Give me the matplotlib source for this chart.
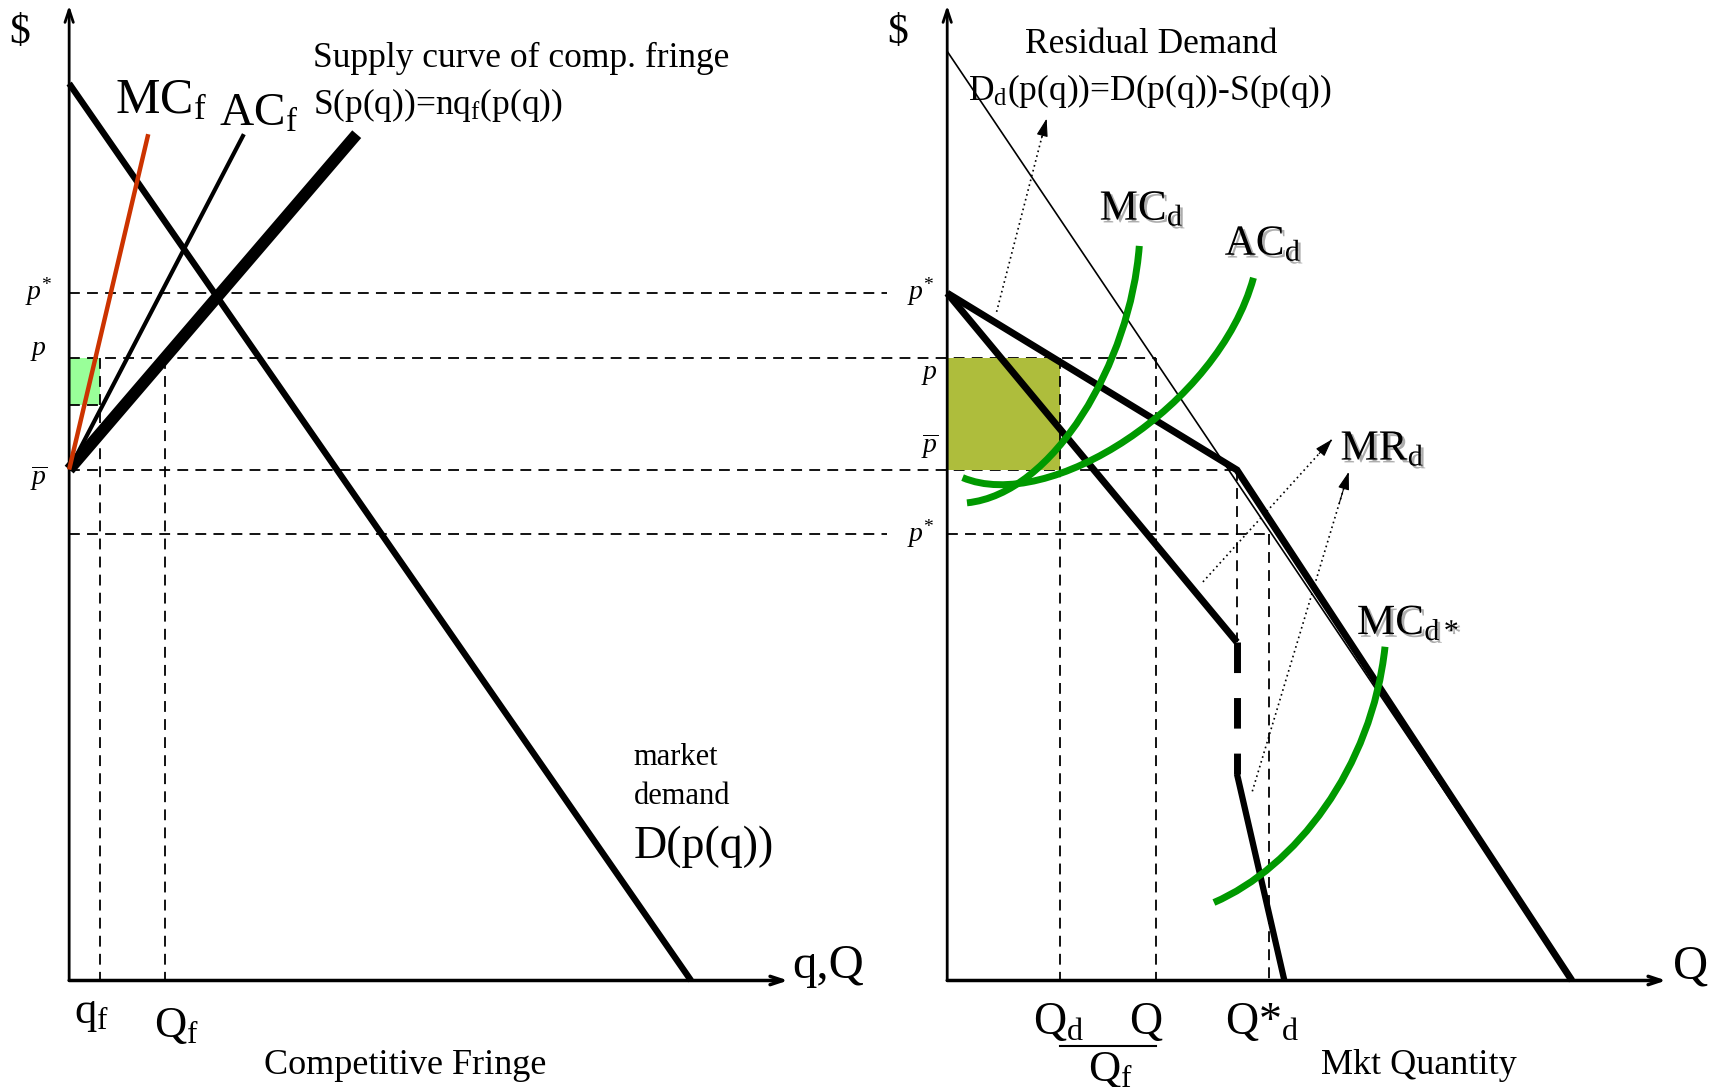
import matplotlib
matplotlib.use('Agg')
import matplotlib.pyplot as plt
from matplotlib.path import Path
from matplotlib.patches import PathPatch, Rectangle
import matplotlib.patheffects as pe

plt.rcParams['font.family'] = ['Liberation Serif', 'DejaVu Serif']
plt.rcParams['mathtext.fontset'] = 'custom'
plt.rcParams['mathtext.rm'] = 'Liberation Serif'
plt.rcParams['mathtext.it'] = 'Liberation Serif:italic'
plt.rcParams['mathtext.bf'] = 'Liberation Serif:bold'

# ---------------- data: price levels (shared) ----------------
P_STAR_HI = 70.5
P_LEVEL = 63.85
P_BAR = 52.4
P_STAR_LO = 45.8
P_GREEN_LOW = 59.0

# ---------------- left panel: competitive fringe ----------------
Q_SMALL_F = 4.35
Q_BIG_F = 13.3
demand_q = [0.0, 86.5]
demand_p = [92.0, 0.0]
mcf_q = [0.0, 11.0]
mcf_p = [52.4, 86.8]
acf_q = [0.0, 24.3]
acf_p = [52.4, 86.8]
supply_q = [0.0, 40.0]
supply_p = [52.4, 86.8]

# ---------------- right panel: dominant firm ----------------
mkt_q = [0.0, 86.9]
mkt_p = [95.3, 0.0]
resid_q = [0.0, 40.3, 86.9]
resid_p = [70.5, 52.36, 0.0]
mr_upper_q = [0.0, 40.3]
mr_upper_p = [70.5, 34.7]
mr_gap_q = [40.3, 40.3]
mr_gap_p = [34.7, 21.2]
mr_lower_q = [40.3, 46.9]
mr_lower_p = [21.2, 0.0]
Q_D = 15.73
Q_TOT = 29.0
Q_KINK = 40.3
MR_KINK_P = 34.7
Q_STAR_D = 44.7
mcd_ctrl = [(2.75, 48.99), (14.81, 49.89), (25.5, 63.4), (26.72, 75.34)]
acd_ctrl = [(2.14, 51.58), (14.05, 47.86), (37.71, 58.9), (42.6, 72.07)]
mcdstar_ctrl = [(37.1, 8.0), (48.4, 11.6), (59.08, 21.73), (60.9, 34.23)]
dotted_arrows = [((6.87, 68.58), (13.83, 88.4)),
                 ((35.57, 40.88), (53.53, 55.5)),
                 ((42.44, 19.4), (55.85, 52.16))]

BLACK = 'black'
RED = '#cc3300'
GREEN = '#009900'
OLIVE = '#aebd3c'
LIGHTGREEN = '#99ff99'

fig = plt.figure(figsize=(17.21, 10.87), dpi=100)
axL = fig.add_axes([0.04018, 0.09798, 0.41773, 0.89697])
axR = fig.add_axes([0.55038, 0.09798, 0.41773, 0.89697])
OFF = (0.55038 - 0.04018) / 0.41773 * 100  # right origin in left units

for ax in (axL, axR):
    ax.set_xlim(0, 100)
    ax.set_ylim(0, 100)
    ax.axis('off')
    ax.annotate('', xy=(0, 100), xytext=(0, 0), annotation_clip=False,
                arrowprops=dict(arrowstyle='->,head_length=0.9,head_width=0.3', lw=2, color=BLACK,
                                shrinkA=0, shrinkB=0))
    ax.annotate('', xy=(100, 0), xytext=(0, 0), annotation_clip=False,
                arrowprops=dict(arrowstyle='->,head_length=0.9,head_width=0.3', lw=2.5, color=BLACK,
                                shrinkA=0, shrinkB=0))
    ax.text(-6.87, 97.2, '$', fontsize=30, ha='center', va='center')

dash = dict(color=BLACK, lw=1.3, linestyle=(0, (6, 4)), dash_capstyle='butt', clip_on=False)

# ---------- left panel ----------
axL.add_patch(Rectangle((0, P_GREEN_LOW), Q_SMALL_F, P_LEVEL - P_GREEN_LOW,
                        facecolor=LIGHTGREEN, edgecolor='none', zorder=1))
axL.plot([0, 113.7], [P_STAR_HI, P_STAR_HI], **dash)
axL.plot([0, OFF + Q_TOT], [P_LEVEL, P_LEVEL], **dash)
axL.plot([0, OFF + Q_KINK], [P_BAR, P_BAR], **dash)
axL.plot([0, 113.7], [P_STAR_LO, P_STAR_LO], **dash)
axL.plot([0, Q_SMALL_F], [P_GREEN_LOW, P_GREEN_LOW], **dash)
axL.plot([Q_SMALL_F, Q_SMALL_F], [P_LEVEL, 0], **dash)
axL.plot([Q_BIG_F, Q_BIG_F], [P_LEVEL, 0], **dash)

axL.plot(demand_q, demand_p, color=BLACK, lw=4.6, solid_capstyle='butt', clip_on=False, zorder=3)
axL.plot(supply_q, supply_p, color=BLACK, lw=8.5, solid_capstyle='butt', clip_on=False, zorder=3)
axL.plot(acf_q, acf_p, color=BLACK, lw=3.0, solid_capstyle='butt', clip_on=False, zorder=3)
axL.plot(mcf_q, mcf_p, color=RED, lw=3.2, solid_capstyle='butt', clip_on=False, zorder=4)

axL.text(6.4, 89.0, r'MC$_{\mathrm{f}}$', fontsize=36, ha='left', va='baseline')
axL.text(20.9, 87.7, r'AC$_{\mathrm{f}}$', fontsize=34, ha='left', va='baseline')
axL.text(33.9, 93.7, 'Supply curve of comp. fringe', fontsize=25.5, ha='left', va='baseline')
axL.text(33.9, 88.9, r'S(p(q))=nq$_{\mathrm{f}}$(p(q))', fontsize=25.5, ha='left', va='baseline')
axL.text(78.5, 22.1, 'market', fontsize=22, ha='left', va='baseline')
axL.text(78.5, 18.1, 'demand', fontsize=22, ha='left', va='baseline')
axL.text(78.5, 12.6, 'D(p(q))', fontsize=33, ha='left', va='baseline')
axL.text(0.7, -4.4, r'q$_{\mathrm{f}}$', fontsize=32, ha='left', va='baseline')
axL.text(11.75, -5.8, r'Q$_{\mathrm{f}}$', fontsize=32, ha='left', va='baseline')
axL.text(46.7, -9.6, 'Competitive Fringe', fontsize=26, ha='center', va='baseline')
axL.text(100.6, 0.3, 'q,Q', fontsize=35, ha='left', va='baseline')
axL.text(-6.2, 69.8, r'$p^{*}$', fontsize=20, ha='left', va='baseline')
axL.text(-5.4, 64.2, r'$p$', fontsize=20, ha='left', va='baseline')
axL.text(-5.4, 50.8, r'$\overline{p}$', fontsize=20, ha='left', va='baseline')

# ---------- right panel ----------
axR.add_patch(Rectangle((0, P_BAR), Q_D, P_LEVEL - P_BAR,
                        facecolor=OLIVE, edgecolor='none', zorder=1))
axR.plot([0, Q_STAR_D], [P_STAR_LO, P_STAR_LO], **dash)
axR.plot([Q_D, Q_D], [P_LEVEL, 0], **dash)
axR.plot([Q_TOT, Q_TOT], [P_LEVEL, 0], **dash)
axR.plot([Q_KINK, Q_KINK], [P_BAR, MR_KINK_P], **dash)
axR.plot([Q_STAR_D, Q_STAR_D], [P_STAR_LO, 0], **dash)

axR.plot(mkt_q, mkt_p, color=BLACK, lw=1.2, clip_on=False, zorder=3)
axR.plot(resid_q, resid_p, color=BLACK, lw=5, solid_capstyle='butt', solid_joinstyle='miter',
         clip_on=False, zorder=3)
axR.plot(mr_upper_q, mr_upper_p, color=BLACK, lw=5, solid_capstyle='butt', clip_on=False, zorder=3)
axR.plot(mr_gap_q, mr_gap_p, color=BLACK, lw=5, linestyle=(0, (4.4, 3.6)), dash_capstyle='butt',
         clip_on=False, zorder=3)
axR.plot(mr_lower_q, mr_lower_p, color=BLACK, lw=4.5, solid_capstyle='butt', clip_on=False, zorder=3)

for ctrl in (mcd_ctrl, acd_ctrl, mcdstar_ctrl):
    path = Path(ctrl, [Path.MOVETO, Path.CURVE4, Path.CURVE4, Path.CURVE4])
    axR.add_patch(PathPatch(path, fill=False, edgecolor=GREEN, lw=5, capstyle='butt',
                            zorder=4, clip_on=False))

for (x0, y0), (x1, y1) in dotted_arrows:
    axR.plot([x0, x1], [y0, y1], color=BLACK, lw=1.2, linestyle=(0, (1, 2)), clip_on=False, zorder=5)
    fx = x0 + (x1 - x0) * 0.9
    fy = y0 + (y1 - y0) * 0.9
    axR.annotate('', xy=(x1, y1), xytext=(fx, fy), annotation_clip=False,
                 arrowprops=dict(arrowstyle='-|>,head_length=1.1,head_width=0.35', lw=0.8,
                                 color=BLACK, shrinkA=0, shrinkB=0))

shadow = [pe.withSimplePatchShadow(offset=(2, -2), shadow_rgbFace='#777777', alpha=0.6)]
axR.text(10.8, 95.1, 'Residual Demand', fontsize=25.5, ha='left', va='baseline')
axR.text(2.9, 90.3, r'D$_{\mathrm{d}}$(p(q))=D(p(q))-S(p(q))', fontsize=25.5, ha='left', va='baseline')
axR.text(21.2, 78.0, r'MC$_{\mathrm{d}}$', fontsize=31, ha='left', va='baseline', path_effects=shadow)
axR.text(38.6, 74.4, r'AC$_{\mathrm{d}}$', fontsize=31, ha='left', va='baseline', path_effects=shadow)
axR.text(54.7, 53.4, r'MR$_{\mathrm{d}}$', fontsize=31, ha='left', va='baseline', path_effects=shadow)
axR.text(57.0, 35.5, r'MC$_{\mathrm{d*}}$', fontsize=31, ha='left', va='baseline', path_effects=shadow)
axR.text(12.0, -5.5, r'Q$_{\mathrm{d}}$', fontsize=33, ha='left', va='baseline')
axR.text(25.3, -5.5, 'Q', fontsize=33, ha='left', va='baseline')
axR.text(38.6, -5.5, r'Q*$_{\mathrm{d}}$', fontsize=33, ha='left', va='baseline')
axR.plot([Q_D, Q_TOT], [-6.76, -6.76], color=BLACK, lw=1.5, clip_on=False)
axR.text(19.6, -10.3, r'Q$_{\mathrm{f}}$', fontsize=32, ha='left', va='baseline')
axR.text(52.0, -9.6, 'Mkt Quantity', fontsize=26, ha='left', va='baseline')
axR.text(100.9, 0.2, 'Q', fontsize=35, ha='left', va='baseline')
axR.text(-5.6, 69.8, r'$p^{*}$', fontsize=20, ha='left', va='baseline')
axR.text(-3.6, 61.7, r'$p$', fontsize=20, ha='left', va='baseline')
axR.text(-3.6, 54.1, r'$\overline{p}$', fontsize=20, ha='left', va='baseline')
axR.text(-5.6, 45.0, r'$p^{*}$', fontsize=20, ha='left', va='baseline')

fig.savefig('out.png', dpi=100, facecolor='white')
